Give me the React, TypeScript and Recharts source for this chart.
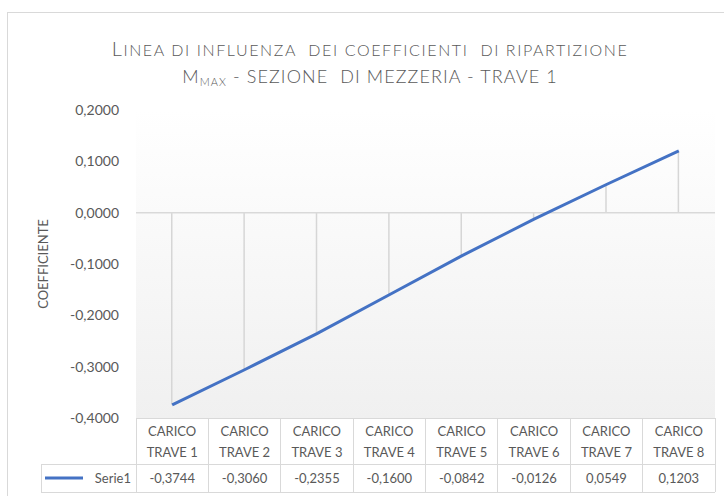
import React from "react";
import {
  ComposedChart,
  Line,
  Bar,
  XAxis,
  YAxis,
  CartesianGrid,
  ReferenceLine,
} from "recharts";

const categories = [
  "CARICO TRAVE 1",
  "CARICO TRAVE 2",
  "CARICO TRAVE 3",
  "CARICO TRAVE 4",
  "CARICO TRAVE 5",
  "CARICO TRAVE 6",
  "CARICO TRAVE 7",
  "CARICO TRAVE 8",
];
const coefficients = [-0.3744, -0.306, -0.2355, -0.16, -0.0842, -0.0126, 0.0549, 0.1203];
const yTicks = [-0.4, -0.3, -0.2, -0.1, 0, 0.1, 0.2];
const seriesName = "Serie1";

const data = categories.map((name, i) => ({ name, value: coefficients[i] }));

const W = 724;
const H = 496;
const PLOT_LEFT = 136;
const PLOT_RIGHT = 715;
const PLOT_TOP = 110;
const PLOT_BOTTOM = 418;
const ROW_SPLIT = 464;
const TABLE_BOTTOM = 492;
const LEGEND_LEFT = 41;

const GRAY = "#595959";
const LINE_GRAY = "#d9d9d9";
const BLUE = "#4472C4";
const FONT = "Lato, 'Open Sans', sans-serif";

const fmt = (v: number) => (Math.abs(v) < 1e-9 ? 0 : v).toFixed(4).replace(".", ",");

function DataTable() {
  const colW = (PLOT_RIGHT - PLOT_LEFT) / categories.length;
  return (
    <svg width={W} height={H} style={{ position: "absolute", left: 0, top: 0 }}>
      <g stroke={LINE_GRAY} strokeWidth={1} shapeRendering="crispEdges">
        <line x1={PLOT_LEFT} x2={PLOT_RIGHT} y1={PLOT_BOTTOM} y2={PLOT_BOTTOM} />
        <line x1={LEGEND_LEFT} x2={PLOT_RIGHT} y1={ROW_SPLIT} y2={ROW_SPLIT} />
        <line x1={LEGEND_LEFT} x2={PLOT_RIGHT} y1={TABLE_BOTTOM} y2={TABLE_BOTTOM} />
        <line x1={LEGEND_LEFT} x2={LEGEND_LEFT} y1={ROW_SPLIT} y2={TABLE_BOTTOM} />
        {categories.map((_, i) => (
          <line
            key={i}
            x1={PLOT_LEFT + i * colW}
            x2={PLOT_LEFT + i * colW}
            y1={PLOT_BOTTOM}
            y2={TABLE_BOTTOM}
          />
        ))}
        <line x1={PLOT_RIGHT} x2={PLOT_RIGHT} y1={PLOT_BOTTOM} y2={TABLE_BOTTOM} />
      </g>
      <g fill={GRAY} fontFamily={FONT} fontSize={13} textAnchor="middle">
        {categories.map((c, i) => {
          const cut = c.indexOf(" ");
          const cx = PLOT_LEFT + (i + 0.5) * colW;
          return (
            <g key={c}>
              <text x={cx} y={436}>{c.slice(0, cut)}</text>
              <text x={cx} y={457}>{c.slice(cut + 1)}</text>
              <text x={cx} y={483}>{fmt(coefficients[i])}</text>
            </g>
          );
        })}
      </g>
      <line x1={45} x2={83} y1={478} y2={478} stroke={BLUE} strokeWidth={3} />
      <text x={131} y={483} fill={GRAY} fontFamily={FONT} fontSize={13} textAnchor="end">
        {seriesName}
      </text>
    </svg>
  );
}

function Title() {
  return (
    <svg width={W} height={110} style={{ position: "absolute", left: 0, top: 0 }}>
      <text
        x={370}
        y={56}
        fill={GRAY}
        fontFamily={FONT}
        fontWeight={300}
        letterSpacing={1.6}
        textAnchor="middle"
      >
        <tspan fontSize={20}>L</tspan>
        <tspan fontSize={16} style={{ whiteSpace: "pre" }}>INEA DI INFLUENZA  DEI COEFFICIENTI  DI RIPARTIZIONE</tspan>
      </text>
      <text
        x={370}
        y={83}
        fill={GRAY}
        fontFamily={FONT}
        fontWeight={300}
        letterSpacing={1.1}
        textAnchor="middle"
      >
        <tspan fontSize={18}>M</tspan>
        <tspan fontSize={11} dy={3}>MAX</tspan>
        <tspan fontSize={18} dy={-3} style={{ whiteSpace: "pre" }}> - SEZIONE  DI MEZZERIA - TRAVE 1</tspan>
      </text>
    </svg>
  );
}

export default function App() {
  return (
    <div
      style={{
        position: "absolute",
        left: 0,
        top: 0,
        width: W,
        height: H,
        overflow: "hidden",
        background: "#fff",
        fontFamily: FONT,
      }}
    >
      <div
        style={{
          position: "absolute",
          left: 7,
          top: 12,
          width: 760,
          height: 560,
          border: `1px solid ${LINE_GRAY}`,
        }}
      />
      <Title />
      <ComposedChart
        width={W}
        height={H}
        data={data}
        margin={{ top: PLOT_TOP, right: W - PLOT_RIGHT, bottom: H - PLOT_BOTTOM, left: 0 }}
        style={{ position: "absolute", left: 0, top: 0 }}
      >
        <defs>
          <linearGradient id="plotBg" x1="0" y1="0" x2="0" y2="1">
            <stop offset="0%" stopColor="#ffffff" />
            <stop offset="100%" stopColor="#f0f0f0" />
          </linearGradient>
        </defs>
        <CartesianGrid horizontal={false} vertical={false} fill="url(#plotBg)" stroke="none" />
        <XAxis dataKey="name" hide height={0} />
        <YAxis
          width={PLOT_LEFT}
          domain={[-0.4, 0.2]}
          ticks={yTicks}
          interval={0}
          axisLine={false}
          tickLine={false}
          tickMargin={11}
          tickFormatter={fmt}
          tick={{ fill: GRAY, fontSize: 14, fontFamily: FONT }}
          label={{
            content: (props: any) => {
              const vb = props.viewBox || {};
              const x = (vb.x ?? 0) + 48;
              const y = (vb.y ?? 0) + (vb.height ?? 0) / 2;
              return (
                <text
                  x={x}
                  y={y}
                  transform={`rotate(-90, ${x}, ${y})`}
                  textAnchor="middle"
                  fill={GRAY}
                  fontFamily={FONT}
                  fontSize={13}
                >
                  COEFFICIENTE
                </text>
              );
            },
          }}
        />
        <ReferenceLine y={0} stroke={LINE_GRAY} strokeWidth={1.5} />
        <Bar dataKey="value" barSize={1.5} fill="#d6d6d6" isAnimationActive={false} />
        <Line
          type="linear"
          dataKey="value"
          stroke={BLUE}
          strokeWidth={3}
          dot={false}
          activeDot={false}
          isAnimationActive={false}
        />
      </ComposedChart>
      <DataTable />
    </div>
  );
}
